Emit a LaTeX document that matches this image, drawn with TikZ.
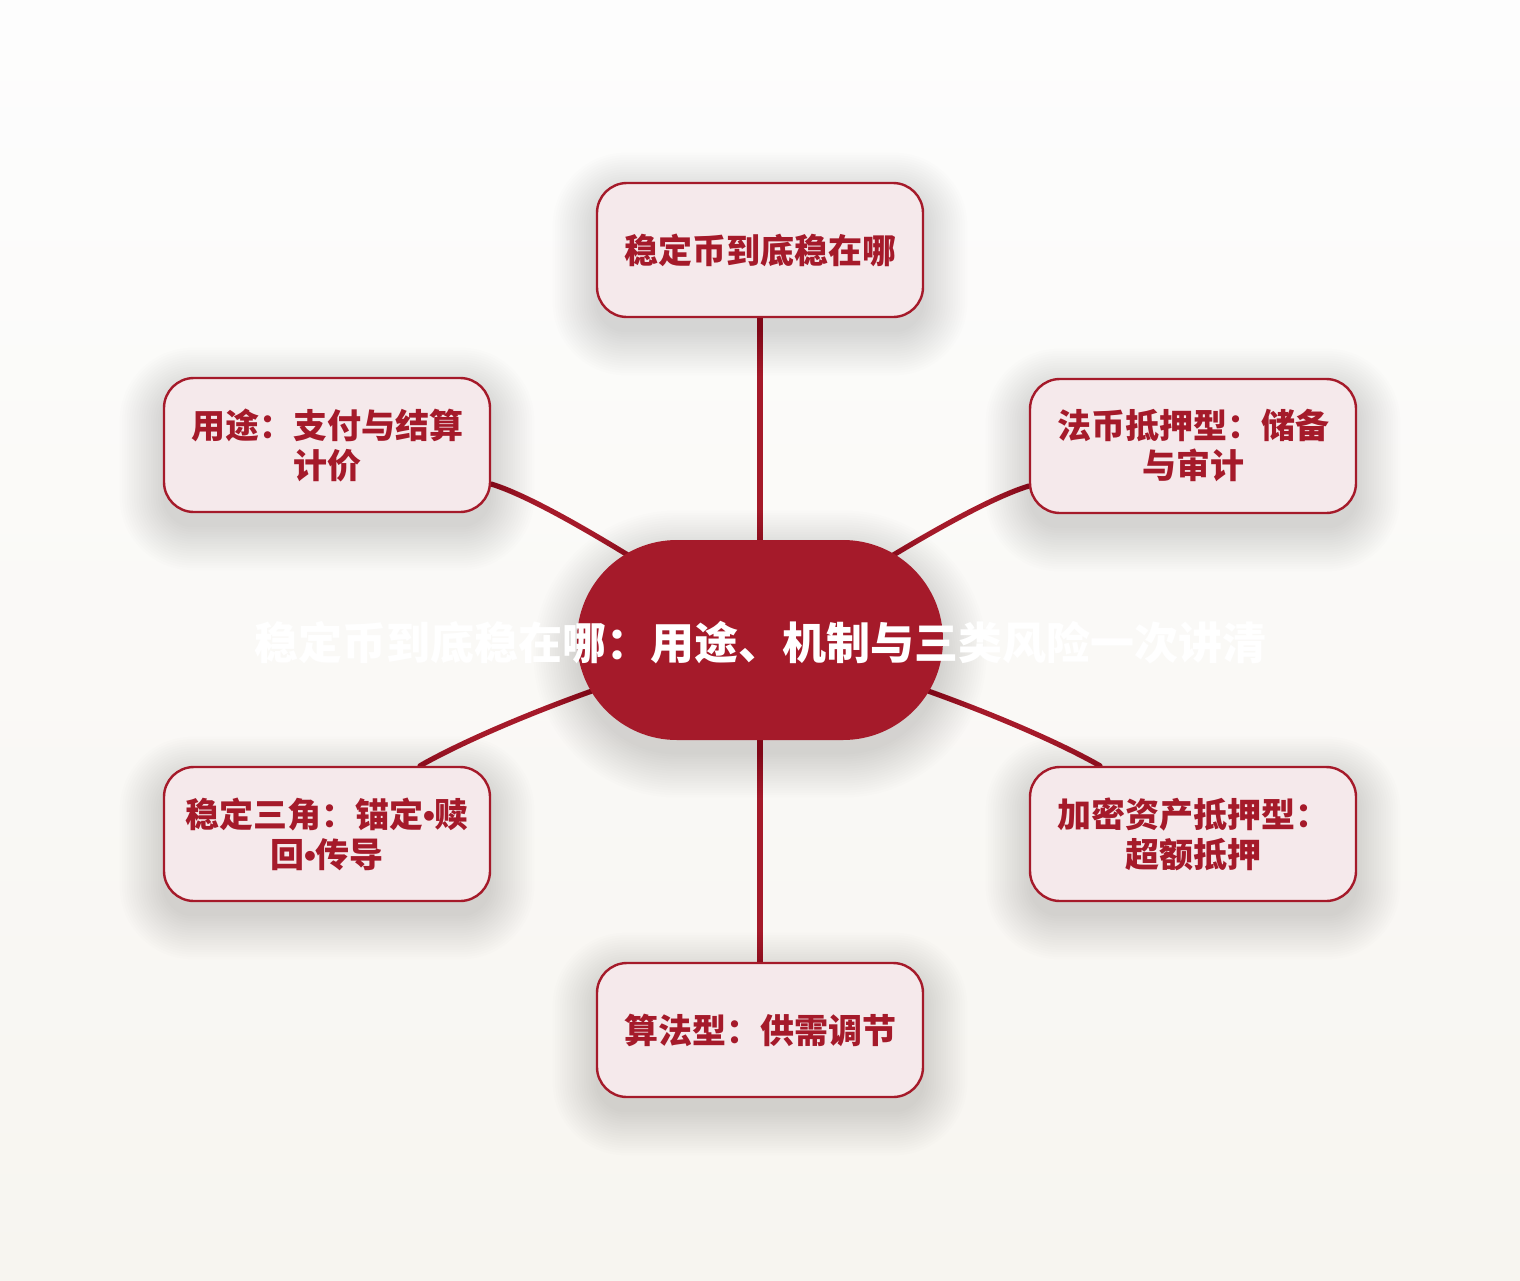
\documentclass[tikz,border=0pt]{standalone}
\usepackage{fontspec}
\setmainfont{Noto Sans CJK SC}
\newfontfamily\bulletfont{Liberation Sans}
\definecolor{dred}{HTML}{A51A2A}
\definecolor{pinkfill}{HTML}{F5E9EB}
\definecolor{bgtop}{HTML}{FDFDFD}
\definecolor{bgbot}{HTML}{F7F5F0}
\pgfdeclarelayer{back}
\pgfdeclarelayer{shadow}
\pgfdeclarelayer{links}
\pgfsetlayers{back,links,shadow,main}
\newcommand\bul{{\bulletfont\bfseries •}}
\newcommand\softshadow[2]{%
  \foreach \e in {0,1.2,...,22} {
    \fill[black, opacity=0.0095, rounded corners={#2+\e pt}]
      ([xshift=-\e pt, yshift=-\e pt-7pt]#1.south west) rectangle
      ([xshift=\e pt, yshift=\e pt-7pt]#1.north east);
  }}
\tikzset{
  leaf/.style={draw=dred, line width=1.2pt, fill=pinkfill, rounded corners=15pt,
    minimum width=163pt, minimum height=67pt, inner sep=0pt, align=center,
    text=dred, font=\fontsize{17pt}{20pt}\selectfont\bfseries},
  hub/.style={fill=dred, draw=none, rounded corners=50pt, minimum width=183pt, minimum height=100pt,
    inner sep=0pt},
  hubtext/.style={text=white, font=\fontsize{22pt}{26pt}\selectfont\bfseries, inner sep=0pt},
  link/.style={draw=dred, line width=2.6pt, line cap=round}
}
\begin{document}
\begin{tikzpicture}[x=0.5pt,y=-0.5pt]
\useasboundingbox (0,0) rectangle (1520,1280);
\begin{pgfonlayer}{back}
\shade[top color=bgtop, bottom color=bgbot] (0,0) rectangle (1520,1280);
\end{pgfonlayer}
\node[hub] (hub) at (760,640) {};
\node[hubtext] (title) at (760,643) {稳定币到底稳在哪：用途、机制与三类风险一次讲清};
\node[leaf] (top) at (760,250) {稳定币到底稳在哪};
\node[leaf] (ul) at (327,445) {用途：支付与结算\\计价};
\node[leaf] (ur) at (1193,446) {法币抵押型：储备\\与审计};
\node[leaf] (ll) at (327,834) {稳定三角：锚定\bul 赎\\回\bul 传导};
\node[leaf] (lr) at (1193,834) {加密资产抵押型：\\超额抵押};
\node[leaf] (bot) at (760,1030) {算法型：供需调节};
\begin{pgfonlayer}{shadow}
\softshadow{hub}{50pt}
\softshadow{top}{15pt}
\softshadow{ul}{15pt}
\softshadow{ur}{15pt}
\softshadow{ll}{15pt}
\softshadow{lr}{15pt}
\softshadow{bot}{15pt}
\end{pgfonlayer}
\begin{pgfonlayer}{links}
\draw[link] (top.south) -- (hub.center);
\draw[link] ([yshift=-19.5pt]ul.east) .. controls (540,499) and (640,560) .. (hub.center);
\draw[link] ([yshift=-20pt]ur.west) .. controls (980,501) and (880,560) .. (hub.center);
\draw[link] ([xshift=46.5pt]ll.north) .. controls (470,737) and (600,680) .. (hub.center);
\draw[link] ([xshift=-46.5pt]lr.north) .. controls (1050,737) and (920,680) .. (hub.center);
\draw[link] (bot.north) -- (hub.center);
\end{pgfonlayer}
\end{tikzpicture}
\end{document}
